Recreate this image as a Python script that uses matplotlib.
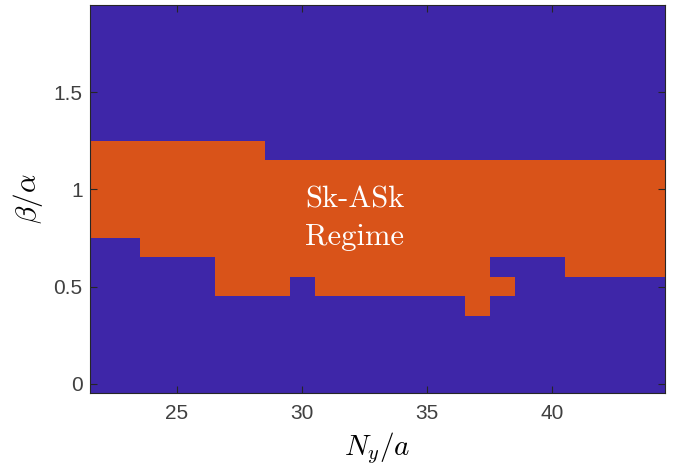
import matplotlib
matplotlib.use('Agg')
import matplotlib.pyplot as plt
from matplotlib.colors import ListedColormap
import numpy as np

# grid of the phase diagram
ny_vals = np.arange(22, 45)                  # N_y / a
ratio_vals = np.round(np.arange(0, 20) * 0.1, 1)  # beta / alpha

# Sk-ASk band per column (lowest and highest beta/alpha inside the band)
band_low = [0.8, 0.8, 0.7, 0.7, 0.7, 0.5, 0.5, 0.5, 0.6, 0.5, 0.5, 0.5,
            0.5, 0.5, 0.5, 0.4, 0.5, 0.7, 0.7, 0.6, 0.6, 0.6, 0.6]
band_high = [1.2, 1.2, 1.2, 1.2, 1.2, 1.2, 1.2, 1.1, 1.1, 1.1, 1.1, 1.1,
             1.1, 1.1, 1.1, 1.1, 1.1, 1.1, 1.1, 1.1, 1.1, 1.1, 1.1]
# cells inside the band that are not Sk-ASk
holes = [(38, 0.6)]

phase = np.zeros((len(ratio_vals), len(ny_vals)))
for j, n in enumerate(ny_vals):
    inside = (ratio_vals >= band_low[j] - 1e-9) & (ratio_vals <= band_high[j] + 1e-9)
    phase[inside, j] = 1
for n, r in holes:
    phase[np.isclose(ratio_vals, r), list(ny_vals).index(n)] = 0

blue = '#3E26A8'
orange = '#D95319'
tick_col = '#404040'

plt.rcParams['mathtext.fontset'] = 'cm'

fig = plt.figure(figsize=(6.78, 4.66), dpi=100)
ax = fig.add_axes([89.5 / 678, (466 - 393.3) / 466, (664.7 - 89.5) / 678, (393.3 - 5) / 466])

ax.pcolormesh(ny_vals, ratio_vals, phase, shading='nearest',
              cmap=ListedColormap([blue, orange]), vmin=0, vmax=1,
              antialiased=False, linewidth=0)

ax.set_xlim(21.5, 44.5)
ax.set_ylim(-0.05, 1.95)
ax.set_xticks([25, 30, 35, 40])
ax.set_yticks([0, 0.5, 1, 1.5])
ax.set_yticklabels(['0', '0.5', '1', '1.5'])

ax.tick_params(direction='in', length=5, width=0.8, top=True, right=True,
               labelsize=15, labelcolor=tick_col, color='#262626')
ax.tick_params(axis='x', pad=8)
ax.tick_params(axis='y', pad=5)
for lab in ax.get_xticklabels() + ax.get_yticklabels():
    lab.set_fontfamily('Liberation Sans')
for sp in ax.spines.values():
    sp.set_color('#262626')
    sp.set_linewidth(0.8)

ax.set_xlabel(r'$N_y/a$', fontsize=21, labelpad=5)
ax.set_ylabel(r'$\beta/\alpha$', fontsize=21, labelpad=6)

ax.text(32.1, 0.85, 'Sk-ASk\nRegime', color='white', fontsize=22,
        fontfamily='cmr10', ha='center', va='center', linespacing=1.5)

fig.savefig('out.png', dpi=100)
